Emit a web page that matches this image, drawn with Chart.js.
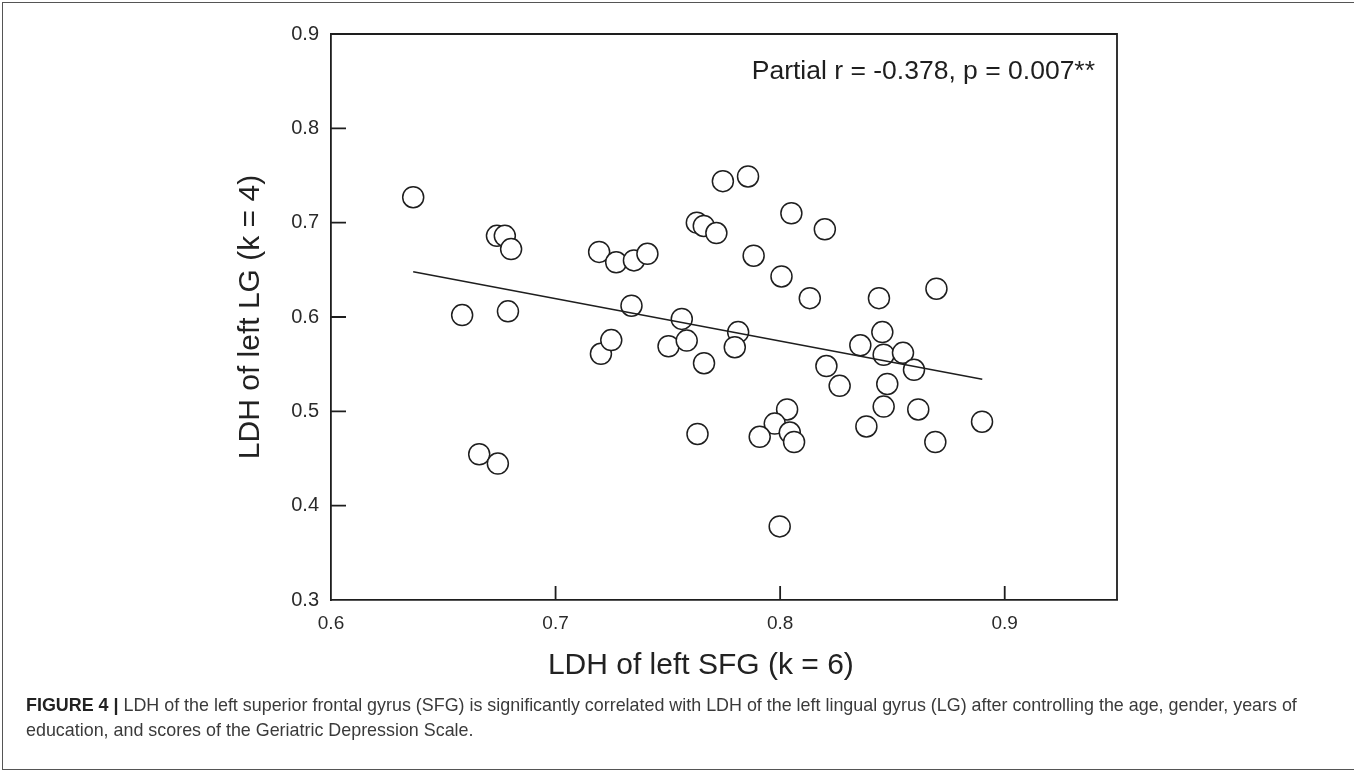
<!DOCTYPE html>
<html lang="en">
<head>
    <meta charset="UTF-8">
    <title>LDH SFG vs LG</title>
    <script src="https://cdn.jsdelivr.net/npm/chart.js"></script>
    <style>
        body { margin: 0; background: #fff; }
        #wrap { position: relative; width: 1355px; height: 773px; overflow: hidden; }
        #frame { position: absolute; left: 2px; top: 2px; width: 1352px; height: 768px; border: 1px solid #555; border-right: none; box-sizing: border-box; }
        #plot { position: absolute; left: 0; top: 0; }
        #caption {
            position: absolute; left: 26px; top: 693px; width: 1320px;
            font-family: 'Liberation Sans', Arial, sans-serif; font-size: 17.9px;
            line-height: 25px; color: #3a3a3a;
        }
        #caption b { color: #222; }
    </style>
</head>
<body>
<div id="wrap">
    <div id="frame"></div>
    <canvas id="plot" width="1355" height="773"></canvas>
    <div id="caption"><b>FIGURE 4 |</b> LDH of the left superior frontal gyrus (SFG) is significantly correlated with LDH of the left lingual gyrus (LG) after controlling the age, gender, years of<br>education, and scores of the Geriatric Depression Scale.</div>
</div>

<script>
    // LDH of left SFG (x) and left LG (y), one entry per subject
    const sfg = [
        0.6366, 0.6584, 0.6739, 0.6774, 0.6802, 0.6788, 0.6660, 0.6743,
        0.7194, 0.7270, 0.7349, 0.7409, 0.7338, 0.7202, 0.7248, 0.7503,
        0.7562, 0.7584, 0.7661, 0.7632, 0.7629, 0.7660, 0.7716, 0.7745,
        0.7857, 0.7882, 0.8006, 0.8050, 0.8199, 0.8132, 0.7813, 0.7798,
        0.8206, 0.8265, 0.8357, 0.8440, 0.8455, 0.8461, 0.8547, 0.8596,
        0.8477, 0.8461, 0.8615, 0.8384, 0.8696, 0.8691, 0.8899, 0.8031,
        0.7976, 0.7909, 0.8043, 0.8062, 0.7998
    ];
    const lg = [
        0.727, 0.602, 0.686, 0.686, 0.672, 0.606, 0.4545, 0.4446,
        0.669, 0.658, 0.660, 0.667, 0.612, 0.561, 0.5755, 0.569,
        0.598, 0.575, 0.551, 0.476, 0.700, 0.6965, 0.689, 0.744,
        0.749, 0.665, 0.643, 0.710, 0.693, 0.620, 0.584, 0.568,
        0.548, 0.527, 0.570, 0.620, 0.584, 0.560, 0.562, 0.544,
        0.529, 0.505, 0.502, 0.484, 0.630, 0.4675, 0.489, 0.502,
        0.487, 0.473, 0.4775, 0.4675, 0.378
    ];

    // regression line end points
    const fitX = [0.6366, 0.8900];
    const fitY = [0.648, 0.534];

    const xTicks = [0.6, 0.7, 0.8, 0.9];
    const yTicks = [0.3, 0.4, 0.5, 0.6, 0.7, 0.8, 0.9];
    const statText = 'Partial r = -0.378, p = 0.007**';
    const xTitle = 'LDH of left SFG (k = 6)';
    const yTitle = 'LDH of left LG (k = 4)';

    const ink = '#1e1e1e';
    const fontFam = "'Liberation Sans', Arial, sans-serif";

    // frame top/right, inward ticks, stats text, x title
    const framePlugin = {
        id: 'framePlugin',
        afterDraw(chart) {
            const ctx = chart.ctx;
            const a = chart.chartArea;
            const xs = chart.scales.x, ys = chart.scales.y;
            ctx.save();
            ctx.strokeStyle = ink;
            ctx.lineWidth = 1.8;
            ctx.beginPath();
            ctx.moveTo(a.left, a.top);
            ctx.lineTo(a.right, a.top);
            ctx.lineTo(a.right, a.bottom);
            xTicks.forEach(v => {
                const px = xs.getPixelForValue(v);
                if (px > a.left + 2) { ctx.moveTo(px, a.bottom); ctx.lineTo(px, a.bottom - 14); }
            });
            yTicks.forEach(v => {
                const py = ys.getPixelForValue(v);
                if (py < a.bottom - 2 && py > a.top + 2) { ctx.moveTo(a.left, py); ctx.lineTo(a.left + 15, py); }
            });
            ctx.stroke();

            ctx.fillStyle = ink;
            ctx.font = '26.5px ' + fontFam;
            ctx.textAlign = 'right';
            ctx.textBaseline = 'middle';
            ctx.fillText(statText, a.right - 22, a.top + 38);

            // x title sits a little left of the plot centre in the original
            ctx.fillStyle = '#222';
            ctx.font = '30px ' + fontFam;
            ctx.textAlign = 'center';
            ctx.fillText(xTitle, (xs.getPixelForValue(0.6) + xs.getPixelForValue(0.9)) / 2 + 33, a.bottom + 66);
            ctx.restore();
        }
    };

    const ctx = document.getElementById('plot').getContext('2d');
    const chart = new Chart(ctx, {
        type: 'scatter',
        data: {
            datasets: [
                {
                    type: 'line',
                    data: fitX.map((x, i) => ({ x: x, y: fitY[i] })),
                    borderColor: ink,
                    borderWidth: 1.4,
                    pointRadius: 0,
                    fill: false,
                    order: 0
                },
                {
                    data: sfg.map((x, i) => ({ x: x, y: lg[i] })),
                    pointRadius: 10.5,
                    pointBackgroundColor: '#fff',
                    pointBorderColor: ink,
                    pointBorderWidth: 1.5,
                    order: 1
                }
            ]
        },
        options: {
            responsive: false,
            animation: false,
            layout: { padding: { left: 0, top: 34, right: 238, bottom: 0 } },
            plugins: { legend: { display: false }, tooltip: { enabled: false } },
            scales: {
                x: {
                    type: 'linear',
                    min: 0.6,
                    max: 0.95,
                    afterBuildTicks: s => { s.ticks = xTicks.map(v => ({ value: v })); },
                    afterFit: s => { s.height = 173; },
                    grid: { display: false, drawTicks: false },
                    border: { display: true, color: ink, width: 1.8 },
                    ticks: {
                        color: '#2a2a2a',
                        padding: 12,
                        maxRotation: 0,
                        font: { family: fontFam, size: 19 },
                        callback: v => v.toFixed(1)
                    }
                },
                y: {
                    type: 'linear',
                    min: 0.3,
                    max: 0.9,
                    afterBuildTicks: s => { s.ticks = yTicks.map(v => ({ value: v })); },
                    afterFit: s => { s.width = 331; },
                    grid: { display: false, drawTicks: false },
                    border: { display: true, color: ink, width: 1.8 },
                    ticks: {
                        color: '#2a2a2a',
                        padding: 12,
                        font: { family: fontFam, size: 20 },
                        callback: v => v.toFixed(1)
                    },
                    title: {
                        display: true,
                        text: yTitle,
                        color: '#222',
                        font: { family: fontFam, size: 30 },
                        padding: { top: 233, bottom: 0 }
                    }
                }
            }
        },
        plugins: [framePlugin]
    });
</script>
</body>
</html>
